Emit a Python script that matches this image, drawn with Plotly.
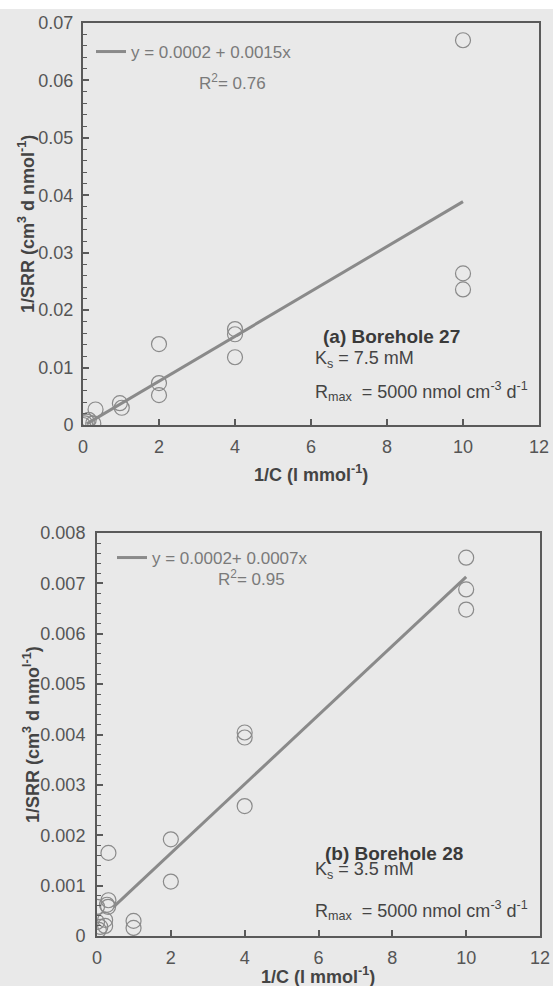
import plotly.graph_objects as go

# ---- data: Borehole 27 (panel a) ----
a_x = [0, 0.05, 0.1, 0.15, 0.27, 0.33, 0.97, 1.02, 2, 2, 2, 4, 4, 4, 10, 10, 10]
a_y = [0.0, 0.0003, 0.0006, 0.0009, 0.0003, 0.0027, 0.0038, 0.0030,
       0.0141, 0.0073, 0.0052, 0.0167, 0.0158, 0.0118, 0.0670, 0.0264, 0.0236]
a_fit_x = [0.1, 10]
a_fit_y = [0.0002, 0.0389]

# ---- data: Borehole 28 (panel b) ----
b_x = [0, 0, 0.05, 0.09, 0.22, 0.22, 0.31, 0.31, 0.27, 0.3, 0.99, 0.99, 2, 2, 4, 4, 4, 10, 10, 10]
b_y = [0.00058, 0.00028, 0.00012, 0.00018, 0.00032, 0.0002, 0.00165, 0.00071, 0.00062, 0.00058,
       0.0003, 0.00016, 0.00192, 0.00108, 0.00404, 0.00394, 0.00258, 0.00751, 0.00688, 0.00648]
b_fit_x = [0.45, 10]
b_fit_y = [0.00058, 0.00713]

x_ticks = [0, 2, 4, 6, 8, 10, 12]
a_yticks = [0, 0.01, 0.02, 0.03, 0.04, 0.05, 0.06, 0.07]
a_yticklabels = ["0", "0.01", "0.02", "0.03", "0.04", "0.05", "0.06", "0.07"]
b_yticks = [0, 0.001, 0.002, 0.003, 0.004, 0.005, 0.006, 0.007, 0.008]
b_yticklabels = ["0", "0.001", "0.002", "0.003", "0.004", "0.005", "0.006", "0.007", "0.008"]

W, H = 553, 986
BG = "#e9e9e9"
AX = "#5a5a5a"
TXT = "#555555"
MK = "#8a8a8a"
FONT = "Liberation Sans, Arial, sans-serif"

def px(x):
    return x / W

def py(y):
    return 1 - y / H

fig = go.Figure()

fig.add_trace(go.Scatter(x=a_x, y=a_y, mode="markers", xaxis="x", yaxis="y",
                         marker=dict(symbol="circle-open", size=15, color=MK, line=dict(width=1.2, color=MK)),
                         showlegend=False))
fig.add_trace(go.Scatter(x=a_fit_x, y=a_fit_y, mode="lines", xaxis="x", yaxis="y",
                         line=dict(color=MK, width=3), name="y = 0.0002 + 0.0015x",
                         legend="legend"))
fig.add_trace(go.Scatter(x=b_x, y=b_y, mode="markers", xaxis="x2", yaxis="y2",
                         marker=dict(symbol="circle-open", size=15, color=MK, line=dict(width=1.2, color=MK)),
                         showlegend=False))
fig.add_trace(go.Scatter(x=b_fit_x, y=b_fit_y, mode="lines", xaxis="x2", yaxis="y2",
                         line=dict(color=MK, width=3), name="y = 0.0002+ 0.0007x",
                         legend="legend2"))

axcommon = dict(showline=True, linecolor=AX, linewidth=2, mirror=True, showgrid=False,
                zeroline=False, ticks="inside", tickcolor=AX, tickwidth=1.5, ticklen=6,
                automargin=False,
                tickfont=dict(family=FONT, size=18, color=TXT))

fig.update_layout(
    width=W, height=H, autosize=False,
    margin=dict(l=0, r=0, t=0, b=0, pad=0, autoexpand=False),
    paper_bgcolor=BG, plot_bgcolor=BG,
    font=dict(family=FONT, color=TXT),
    xaxis=dict(domain=[px(83), px(539)], anchor="y", range=[0, 12], tickvals=x_ticks,
               ticklabelstandoff=4, **axcommon),
    yaxis=dict(domain=[py(425), py(23)], anchor="x", range=[0, 0.07], tickvals=a_yticks,
               ticktext=a_yticklabels, ticklabelstandoff=4,
               minor=dict(ticks="inside", dtick=0.002, ticklen=4, tickcolor=AX, tickwidth=1.2),
               **axcommon),
    xaxis2=dict(domain=[px(97), px(540)], anchor="y2", range=[0, 12], tickvals=x_ticks,
                ticklabelstandoff=4, **axcommon),
    yaxis2=dict(domain=[py(936), py(533)], anchor="x2", range=[0, 0.008], tickvals=b_yticks,
                ticktext=b_yticklabels, ticklabelstandoff=6,
                minor=dict(ticks="inside", dtick=0.0002, ticklen=4, tickcolor=AX, tickwidth=1.2),
                **axcommon),
    legend=dict(x=px(91), y=py(52), xanchor="left", yanchor="middle", bgcolor="rgba(0,0,0,0)",
                font=dict(family=FONT, size=17, color="#7a7a7a")),
    legend2=dict(x=px(112), y=py(558), xanchor="left", yanchor="middle", bgcolor="rgba(0,0,0,0)",
                 font=dict(family=FONT, size=17, color="#7a7a7a")),
    shapes=[dict(type="rect", xref="paper", yref="paper", x0=0, x1=1, y0=py(9), y1=1,
                 fillcolor="white", line=dict(width=0), layer="below")],
)

ann = []
def add(text, x, y, size=18, color=TXT, xanchor="left", yanchor="middle", textangle=0):
    ann.append(dict(text=text, x=px(x), y=py(y), xref="paper", yref="paper", showarrow=False,
                    xanchor=xanchor, yanchor=yanchor, textangle=textangle,
                    font=dict(family=FONT, size=size, color=color)))

# panel a
add("R<sup>2</sup>= 0.76", 197, 82, size=17, color="#7a7a7a")
add("<b>(a) Borehole 27</b>", 321, 337, size=19, color="#3a3a3a")
add("K<sub>s</sub> = 7.5 mM", 313, 359, size=18, color="#444")
add("R<sub>max</sub>  = 5000 nmol cm<sup>-3</sup> d<sup>-1</sup>", 313, 391, size=18, color="#444")
add("<b>1/C (l mmol<sup>-1</sup>)</b>", 311, 473, size=18, color="#444", xanchor="center")
add("<b>1/SRR (cm<sup>3</sup> d nmol<sup>-1</sup>)</b>", 26, 224, size=18, color="#444",
    xanchor="center", textangle=-90)

# panel b
add("R<sup>2</sup>= 0.95", 216, 578, size=17, color="#7a7a7a")
add("<b>(b) Borehole 28</b>", 323, 853, size=19, color="#3a3a3a")
add("K<sub>s</sub> = 3.5 mM", 313, 870, size=18, color="#444")
add("R<sub>max</sub>  = 5000 nmol cm<sup>-3</sup> d<sup>-1</sup>", 313, 910, size=18, color="#444")
add("<b>1/C (l mmol<sup>-1</sup>)</b>", 318, 975, size=18, color="#444", xanchor="center")
add("<b>1/SRR (cm<sup>3</sup> d nmo<sup>l-1</sup>)</b>", 31, 735, size=18, color="#444",
    xanchor="center", textangle=-90)

fig.update_layout(annotations=ann)
fig.write_html("out.html",
               config={"responsive": False, "displayModeBar": False},
               post_script="document.body.style.margin='0';document.body.style.padding='0';document.body.style.overflow='hidden';")
